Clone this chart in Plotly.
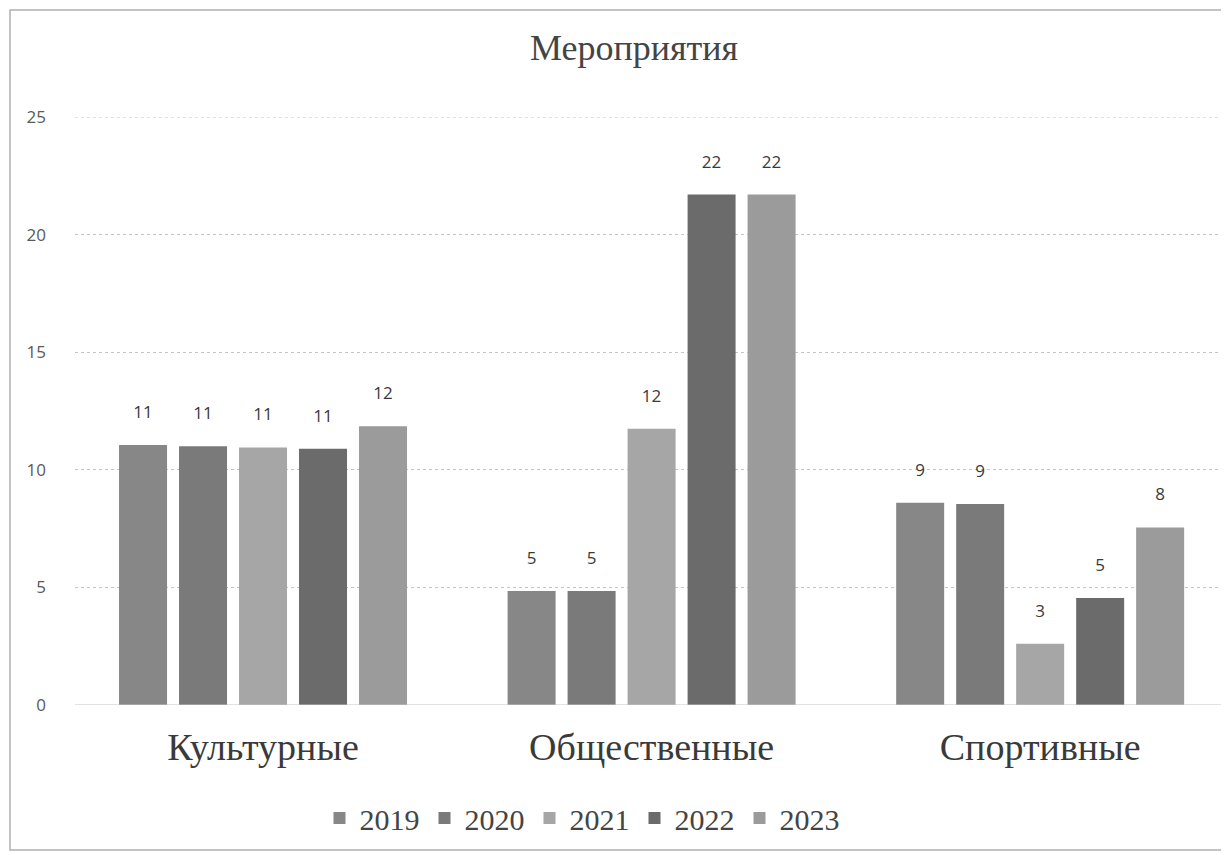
import plotly.graph_objects as go

categories = ["Культурные", "Общественные", "Спортивные"]
years = ["2019", "2020", "2021", "2022", "2023"]
values_2019 = [11.05, 4.85, 8.6]
values_2020 = [11.0, 4.85, 8.55]
values_2021 = [10.95, 11.75, 2.6]
values_2022 = [10.9, 21.7, 4.55]
values_2023 = [11.85, 21.7, 7.55]
series_values = [values_2019, values_2020, values_2021, values_2022, values_2023]
colors = ["#878787", "#7a7a7a", "#a6a6a6", "#6b6b6b", "#9b9b9b"]
y_ticks = [0, 5, 10, 15, 20, 25]

serif = "Liberation Serif, Times New Roman, serif"
sans = "Open Sans, Liberation Sans, sans-serif"

# page has an 8px body margin; figure sized to fit the 1229x855 window
OFF = 8
FIG_W, FIG_H = 1229 - OFF, 855 - OFF
# Plot area in page coordinates
L, R, T, B = 75, 1229, 117, 705
W, H = R - L, B - T
def px(x): return (x - L) / W
def py(y): return (B - y) / H

fig = go.Figure()
for name, vals, col in zip(years, series_values, colors):
    fig.add_trace(go.Bar(
        name=name, x=categories, y=vals,
        marker=dict(color=col, line=dict(width=0)),
        text=[f"{round(v)}" for v in vals],
        texttemplate="%{text}<br><span style='font-size:6px'> </span>",
        textposition="outside",
        textfont=dict(family=sans, size=17, color="#3a3a3a"),
        cliponaxis=False,
    ))

fig.update_layout(
    width=FIG_W, height=FIG_H,
    margin=dict(l=L - OFF, r=0, t=T - OFF, b=FIG_H - (B - OFF)),
    paper_bgcolor="white", plot_bgcolor="white",
    barmode="group", bargap=0.228, bargroupgap=0.2,
    showlegend=True,
    title=dict(text="Мероприятия", x=(634 - OFF) / FIG_W, xanchor="center",
               y=1 - (47 - OFF) / FIG_H, yanchor="middle",
               font=dict(family=serif, size=36, color="#444444")),
    legend=dict(orientation="h", x=px(582), xanchor="center", y=py(818), yanchor="middle",
                font=dict(family=serif, size=30, color="#444444"), itemwidth=30,
                traceorder="normal", bgcolor="rgba(0,0,0,0)"),
    xaxis=dict(range=[-0.4839, 2.486], showgrid=False, showline=False, zeroline=False,
               tickfont=dict(family=serif, size=38, color="#3a3a3a"), ticks="",
               ticklabelstandoff=16),
    yaxis=dict(range=[0, 25], tickvals=y_ticks, showgrid=True, gridcolor="#c4c4c4", gridwidth=1,
               griddash="dot", zeroline=False, showline=False,
               tickfont=dict(family=sans, size=17, color="#5a5a5a"), ticks="",
               ticklabelstandoff=28),
    shapes=[dict(type="rect", xref="paper", yref="paper",
                 x0=px(10), x1=px(1240), y0=py(850), y1=py(10),
                 line=dict(color="#b0b0b0", width=1.5), fillcolor="rgba(0,0,0,0)", layer="below"),
            dict(type="line", xref="paper", yref="y", x0=0, x1=1, y0=0, y1=0,
                 line=dict(color="#c4c4c4", width=1)),
            dict(type="line", xref="paper", yref="y", x0=0, x1=1, y0=25, y1=25,
                 line=dict(color="#c4c4c4", width=1, dash="dot"))],
)

fig.write_html("out.html")
